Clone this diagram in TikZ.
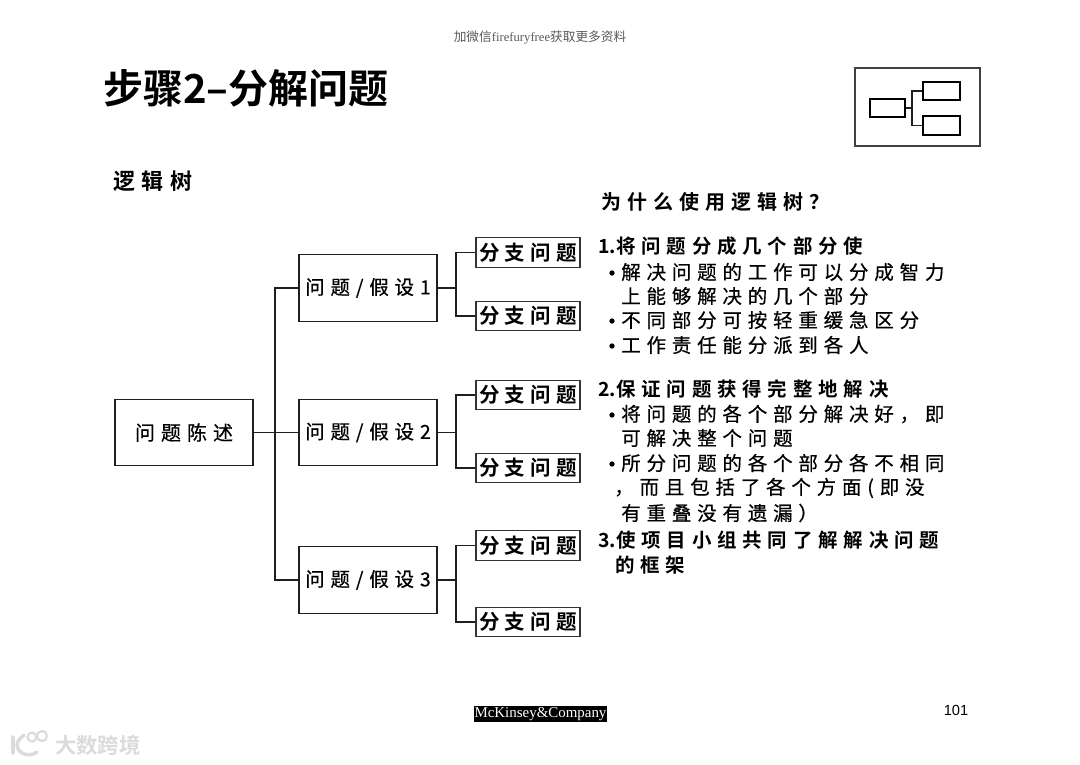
\documentclass[tikz,border=0pt]{standalone}
\usepackage{fontspec}
\setmainfont{Liberation Sans}
\newfontfamily\cjk[LetterSpace=30,FakeBold=0.5]{Noto Sans CJK SC}
\newfontfamily\cjkleaf[LetterSpace=25]{Noto Sans CJK SC Bold}
\newfontfamily\cjkbold[LetterSpace=30]{Noto Sans CJK SC Bold}
\newfontfamily\cjktight{Noto Sans CJK SC}
\newfontfamily\cjktitle{Noto Sans CJK SC Bold}
\newfontfamily\serifmc{Liberation Serif}
\definecolor{wmgray}{gray}{0.86}
\tikzset{
  x=0.75pt,y=-0.75pt,
  box/.style={draw=black!88,line width=0.95pt,fill=white,minimum width=103.5pt,minimum height=50pt,inner sep=0pt,font=\fontsize{14.6}{16}\selectfont\cjk},
  leafbox/.style={draw=black!80,line width=0.95pt,fill=white,minimum width=78pt,minimum height=22pt,inner sep=0pt,font=\fontsize{15.4}{16}\selectfont\cjkleaf},
  wire/.style={draw=black!88,line width=0.95pt},
  iconbox/.style={draw=black,line width=1.05pt,fill=white,inner sep=0pt},
  body/.style={anchor=west,inner sep=0pt,font=\fontsize{14.6}{16}\selectfont\cjk},
  head/.style={anchor=west,inner sep=0pt,font=\fontsize{14.6}{16}\selectfont\cjkbold},
  dotb/.style={circle,fill=black,inner sep=0pt,minimum size=4pt},
}
\begin{document}
\begin{tikzpicture}
\useasboundingbox (0,0) rectangle (1080,764);
\fill[white] (0,0) rectangle (1080,764);
% header
\node[inner sep=0pt,text=black!65] (top) at (540,38) {\fontsize{9.5}{10}\selectfont\cjktight 加微信\serifmc firefuryfree\cjktight 获取更多资料};
\node[anchor=west,inner sep=0pt] (title) at (103,88) {\fontsize{30}{32}\selectfont\cjktitle 步骤2–分解问题};
\node[anchor=west,inner sep=0pt] (sub) at (113,181) {\fontsize{16.5}{20}\selectfont\cjkbold 逻辑树};
\node[head] (why) at (601,202) {\fontsize{15}{16}\selectfont 为什么使用逻辑树？};
% icon
\node[draw=black!75,line width=0.8pt,minimum width=93.75pt,minimum height=58.5pt,inner sep=0pt] (frame) at (917.5,107) {};
\node[iconbox,minimum width=26.25pt,minimum height=13.5pt] (ia) at (887.5,108) {};
\node[iconbox,minimum width=27.75pt,minimum height=13.5pt] (ib) at (941.5,91) {};
\node[iconbox,minimum width=27.75pt,minimum height=14.25pt] (ic) at (941.5,125.5) {};
\coordinate (ij) at (912,108);
\draw[wire] (ia.east) -- (ij);
\draw[wire] (ij) |- (ib.west);
\draw[wire] (ij) |- (ic.west);
% tree nodes
\node[box,font=\fontsize{15}{16}\selectfont\cjk] (root) at (184,432.5) {问题陈述};
\node[box] (h1) at (368,288) {问题/假设1};
\node[box] (h2) at (368,432.5) {问题/假设2};
\node[box] (h3) at (368,580) {问题/假设3};
\node[leafbox] (b1) at (528,252.5) {分支问题};
\node[leafbox] (b2) at (528,316) {分支问题};
\node[leafbox] (b3) at (528,395) {分支问题};
\node[leafbox] (b4) at (528,468) {分支问题};
\node[leafbox] (b5) at (528,545.5) {分支问题};
\node[leafbox] (b6) at (528,622) {分支问题};
\coordinate (jr) at (275,432.5);
\coordinate (j1) at (456,288);
\coordinate (j2) at (456,432.5);
\coordinate (j3) at (456,580);
\draw[wire] (root.east) -- (h2.west);
\draw[wire] (jr) |- (h1.west);
\draw[wire] (jr) |- (h3.west);
\draw[wire] (h1.east) -- (j1);
\draw[wire] (h2.east) -- (j2);
\draw[wire] (h3.east) -- (j3);
\draw[wire] (j1) |- (b1.west);
\draw[wire] (j1) |- (b2.west);
\draw[wire] (j2) |- (b3.west);
\draw[wire] (j2) |- (b4.west);
\draw[wire] (j3) |- (b5.west);
\draw[wire] (j3) |- (b6.west);
% explanatory text
\node[head] (t1) at (598,246) {{\cjktitle 1.}将问题分成几个部分使};
\node[dotb] (d1) at (612,273) {};
\node[body] (t2) at (621,272) {解决问题的工作可以分成智力};
\node[body] (t3) at (621,296) {上能够解决的几个部分};
\node[dotb] (d2) at (612,321) {};
\node[body] (t4) at (621,320) {不同部分可按轻重缓急区分};
\node[dotb] (d3) at (612,346) {};
\node[body] (t5) at (621,345) {工作责任能分派到各人};
\node[head] (t6) at (598,389) {{\cjktitle 2.}保证问题获得完整地解决};
\node[dotb] (d4) at (612,415) {};
\node[body] (t7) at (621,414) {将问题的各个部分解决好，即};
\node[body] (t8) at (621,438) {可解决整个问题};
\node[dotb] (d5) at (612,464) {};
\node[body] (t9) at (621,463) {所分问题的各个部分各不相同};
\node[body] (t10) at (614,488) {，而且包括了各个方面(即没};
\node[body] (t11) at (621,513) {有重叠没有遗漏）};
\node[head] (t12) at (598,540) {{\cjktitle 3.}使项目小组共同了解解决问题};
\node[head] (t13) at (615,565) {的框架};
% footer
\node[fill=black,text=white,inner sep=0pt,minimum width=99.75pt,minimum height=12pt] (mck) at (540.5,714) {\fontsize{11.2}{11}\selectfont\serifmc McKinsey\&Company};
\node[inner sep=0pt] (page) at (956,710) {\fontsize{11}{12}\selectfont 101};
% watermark
\draw[wmgray,line width=2.6pt,line cap=round] (13,737) -- (13,753);
\draw[wmgray,line width=2.6pt,line cap=round] (24,735) .. controls (15,742) and (15,748) .. (22,753) .. controls (27,756) and (33,755) .. (37,752);
\draw[wmgray,line width=1.6pt] (32,737) circle[radius=4.5];
\draw[wmgray,line width=1.6pt] (42,736) circle[radius=5];
\node[anchor=west,inner sep=0pt,text=wmgray] (wm) at (55,745) {\fontsize{16}{18}\selectfont\cjktitle 大数跨境};
\end{tikzpicture}
\end{document}
